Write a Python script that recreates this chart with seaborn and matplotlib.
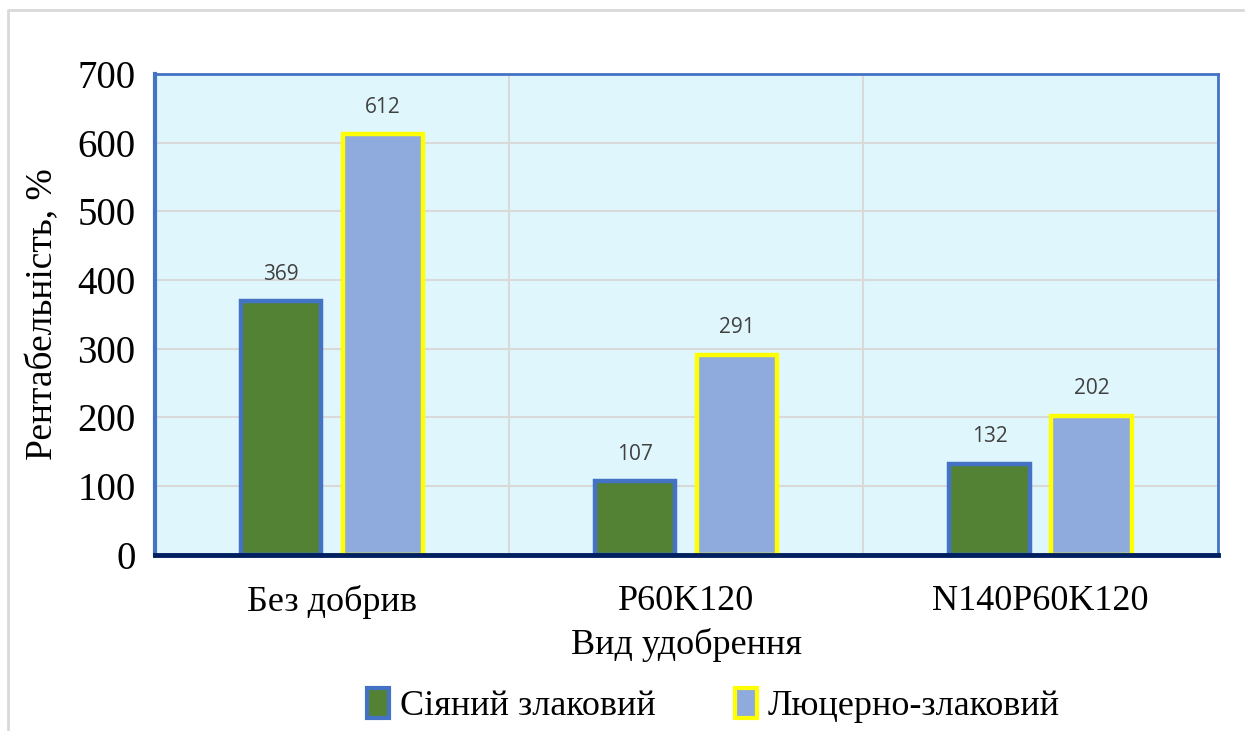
import matplotlib
matplotlib.use('Agg')
import matplotlib.pyplot as plt
import seaborn as sns
import pandas as pd
from matplotlib.lines import Line2D
from matplotlib.patches import Patch

categories = ['Без добрив', 'P60K120', 'N140P60K120']
series = ['Сіяний злаковий', 'Люцерно-злаковий']
siyanyi = [369, 107, 132]
lyutserno = [612, 291, 202]

fills = ['#548235', '#8FAADC']
edges = ['#4472C4', '#FFFF00']

df = pd.DataFrame({
    'cat': categories * 2,
    'series': [series[0]] * 3 + [series[1]] * 3,
    'val': siyanyi + lyutserno,
})

sns.set_style('white')
plt.rcParams['font.family'] = ['Liberation Serif', 'DejaVu Serif']
plt.rcParams['text.color'] = 'black'
plt.rcParams['axes.labelcolor'] = 'black'
plt.rcParams['xtick.color'] = 'black'
plt.rcParams['ytick.color'] = 'black'

fig = plt.figure(figsize=(12.45, 7.31), dpi=100)
ax = fig.add_axes([0.1245, 0.241, 0.8535, 0.658])
ax.set_facecolor('#DFF7FC')

sns.barplot(data=df, x='cat', y='val', hue='series', palette=fills, saturation=1,
            width=0.576, gap=0.215, ax=ax, legend=False, zorder=3)

# per-series edge colours
for cont, ec in zip(ax.containers, edges):
    for bar in cont:
        bar.set_edgecolor(ec)
        bar.set_linewidth(3.2)
    ax.bar_label(cont, padding=12, fontsize=15, color='#404040',
                 family=['Open Sans', 'DejaVu Sans'])

ax.set_ylim(0, 700)
ax.set_xlim(-0.5, 2.5)
ax.set_yticks(range(0, 701, 100))
ax.tick_params(axis='y', labelsize=28, length=0, pad=14)
ax.tick_params(axis='x', labelsize=26, length=0, pad=22)

ax.grid(axis='y', color='#D9D9D9', linewidth=1.5, zorder=0)
for xb in [0.5, 1.5]:
    ax.axvline(xb, color='#D9D9D9', linewidth=1.5, zorder=0)

for side in ['left', 'top', 'right']:
    ax.spines[side].set_color('#4472C4')
ax.spines['left'].set_linewidth(3)
ax.spines['top'].set_linewidth(2)
ax.spines['right'].set_linewidth(2)
ax.spines['bottom'].set_color('#002060')
ax.spines['bottom'].set_linewidth(3.5)
ax.spines['bottom'].set_zorder(5)

ax.set_xlabel('Вид удобрення', fontsize=26, labelpad=6)
ax.set_ylabel('Рентабельність, %', fontsize=27, labelpad=12)

handles = [Patch(facecolor=f, edgecolor=e, linewidth=3) for f, e in zip(fills, edges)]
fig.legend(handles, series, loc='center', bbox_to_anchor=(0.573, 0.035),
           ncol=2, frameon=False, fontsize=26, handlelength=0.6, handleheight=0.9,
           handletextpad=0.3, columnspacing=2.2)

# outer chart-area frame
fig.add_artist(Line2D([8 / 1245, 8 / 1245, 1.0], [0.0, 1 - 10 / 731, 1 - 10 / 731],
                      transform=fig.transFigure, color='#D9D9D9', linewidth=2))

fig.savefig('out.png', dpi=100)
